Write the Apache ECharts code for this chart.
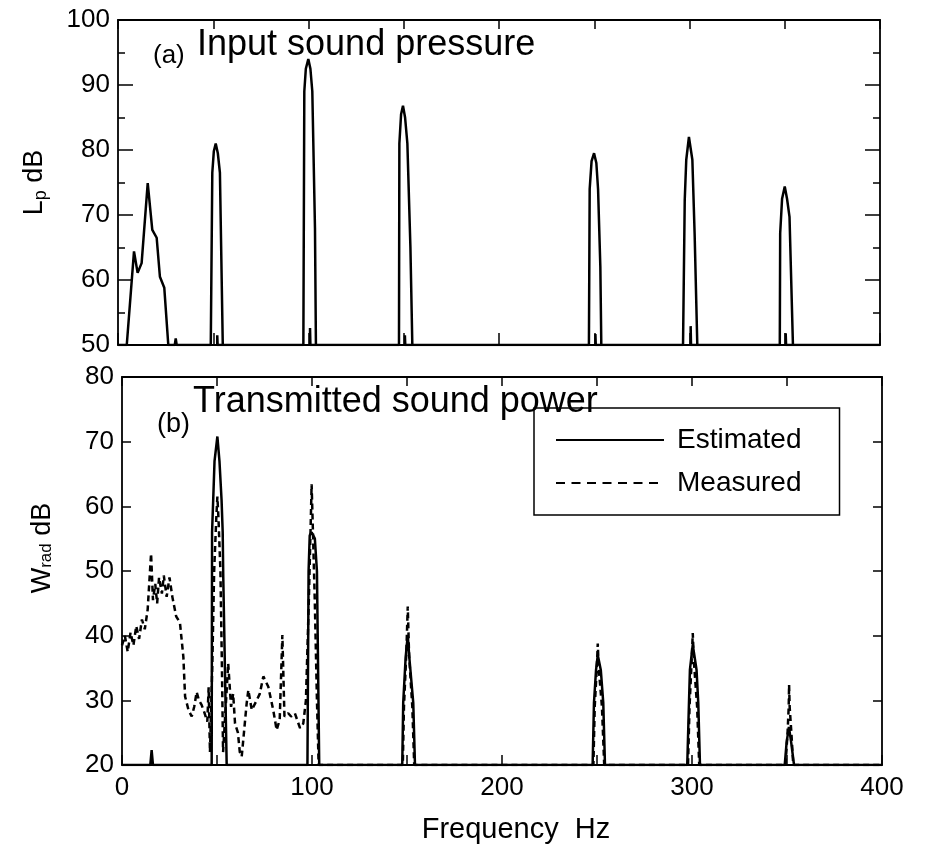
<!DOCTYPE html>
<html>
<head>
<meta charset="utf-8">
<script src="https://cdn.jsdelivr.net/npm/echarts@6/dist/echarts.min.js"></script>
<style>
html,body{margin:0;padding:0;background:#fff;}
#chart{width:926px;height:848px;}
</style>
</head>
<body>
<div id="chart"></div>
<script>
// ---- Data ----
// Panel (a): input sound pressure level Lp (dB) vs frequency (Hz)
const inputPressure = [
  [0,50],[4.6,50],[8.4,64.4],[10.3,61.1],[12.4,62.6],[15.6,74.9],[18.0,67.7],[20.3,66.5],[22.0,60.5],[24.3,58.8],[26.4,50],
  [29.8,50],[30.3,51],[30.8,50],
  [48.7,50],[49.5,76.5],[50.3,79.8],[51.3,81],[52.4,79.5],[53.5,76.5],[55.0,50],[52.1,50],[52.1,51.5],[52.3,50],[55.0,50],
  [97.3,50],[97.8,89],[98.6,92.5],[99.9,94],[101.0,92.5],[102.0,89],[103.4,68],[103.9,50],[100.8,50],[100.8,52.6],[101.0,50],[103.9,50],
  [147.5,50],[147.7,81],[148.6,85.5],[149.6,86.8],[150.7,85],[151.9,81],[153.5,65],[154.5,50],[150.6,50],[150.6,51.5],[150.8,50],[154.5,50],
  [247.2,50],[247.6,74],[248.6,78.3],[249.9,79.5],[251.1,78],[252.0,74],[253.2,62],[253.7,50],[250.6,50],[250.6,51.7],[250.8,50],[253.7,50],
  [296.6,50],[297.5,72.3],[298.3,78.5],[299.7,82],[301.5,78.5],[302.7,67],[304.1,50],[300.6,50],[300.6,52.9],[300.8,50],[304.1,50],
  [347.4,50],[347.6,67.2],[348.6,72.5],[350.0,74.4],[351.2,72.5],[352.5,69.7],[354.3,50],[350.5,50],[350.5,51.8],[350.7,50],[354.3,50],
  [400,50]
];
// Panel (b): transmitted sound power Wrad (dB)
const estimatedPower = [
  [0,20],[14.9,20],[15.6,22.3],[16.3,20],
  [47.2,20],[47.4,56],[48.0,61],[48.7,67],[50.2,70.8],[51.3,67],[52.4,61],[53.0,56],[53.3,49],[55.1,20],
  [97.6,20],[98.2,50],[98.8,55.5],[99.8,56],[101.5,55],[102.6,50],[103.8,20],
  [147.5,20],[148.0,29.6],[149.3,36.7],[150.4,40.1],[151.2,36.7],[153.3,29.6],[154.2,20],
  [247.7,20],[248.4,29.6],[249.5,34.7],[250.4,37],[252.0,34.7],[253.3,29.6],[254.2,20],
  [297.5,20],[298.4,29.6],[298.9,34.7],[300.4,38.6],[302.4,34.7],[303.3,29.6],[304.2,20],
  [348.8,20],[349.8,23.5],[351.0,25.9],[352.2,23.5],[353.7,20],
  [400,20]
];
const measuredPower = [
  [0,38.5],[1.5,40],[3,37.5],[4.5,40.5],[6,38.5],[7.5,41.5],[9,39.5],[10.5,42.5],[12,41],[13.5,44],
  [15.3,52.7],[16.3,45.5],[17.5,48],[18.5,45],[19.5,49],[21,46.5],[22,49.3],[23.5,46],[25,49],[26.5,46],
  [28.5,43],[30.5,42],[32.3,36.7],[33.2,30.6],[35,28.5],[36.7,27.5],[38,29],[39.3,31.3],[40.5,30],[41.9,29.3],
  [43.5,28],[44.9,26.7],[45.6,32],[46.3,22],[47.5,35],[48.5,50],[49.6,58],[50.2,61.5],[50.8,58],[51.8,50],
  [52.6,35],[53.2,22],[55.9,35.7],[57.4,29],[58.5,31],[59.5,26.4],[61,25],[62,22],[63,21.3],[64.5,26],
  [65.6,29.5],[66.5,31.6],[68.3,28.5],[70.9,30],[72.5,31],[74.4,33.7],[77,32.1],[79.6,28.5],[81.4,25.4],[83,27],
  [84.4,40.1],[85.5,27.5],[87.5,28],[89,27.5],[91,28],[93.7,25.7],[95.4,26.4],[96.8,30],[98.3,45],[99.3,57],
  [99.8,63.4],[100.5,56],[101.5,45],[102.6,30],[103.5,20],
  [147.8,20],[148.4,29],[149.6,37],[150.4,44.5],[151.1,37],[152.8,29],[153.8,20],
  [248.1,20],[248.8,29],[249.9,35],[250.4,38.8],[250.9,35],[252.6,29],[253.8,20],
  [297.9,20],[298.7,29],[299.8,36],[300.4,40.4],[301.0,36],[302.7,29],[303.8,20],
  [349.2,20],[350.3,25],[350.9,29],[351.1,32.4],[351.4,29],[352.3,25],[353.3,20],
  [400,20]
];
const xTickLabels = [0, 100, 200, 300, 400];
const seriesNames = ['Estimated', 'Measured'];
const panelTitles = ['(a)', 'Input sound pressure', '(b)', 'Transmitted sound power'];

// ---- Chart ----
const FONT = 'Liberation Sans, Arial, Helvetica, sans-serif';
const chart = echarts.init(document.getElementById('chart'), null, {renderer: 'canvas'});

function xAx(grid, pos, tickLen, showLabels, extra) {
  return Object.assign({
    type: 'value', gridIndex: grid, position: pos, min: 0, max: 400, interval: 50,
    axisLine: {show: true, onZero: false, lineStyle: {color: '#000', width: 1.8}},
    axisTick: {show: true, inside: true, length: tickLen, lineStyle: {color: '#000', width: 1.5}},
    axisLabel: {show: showLabels, color: '#000', fontSize: 26, fontFamily: FONT, margin: 10,
      formatter: v => xTickLabels.indexOf(v) >= 0 ? String(v) : ''},
    splitLine: {show: false}
  }, extra || {});
}
function yAx(grid, pos, min, max, tickLen, minor, showLabels, extra) {
  return Object.assign({
    type: 'value', gridIndex: grid, position: pos, min: min, max: max, interval: 10,
    axisLine: {show: true, onZero: false, lineStyle: {color: '#000', width: 1.8}},
    axisTick: {show: true, inside: true, length: tickLen, lineStyle: {color: '#000', width: 1.5}},
    minorTick: {show: minor, splitNumber: 2, length: 7, lineStyle: {color: '#000', width: 1.5}},
    axisLabel: {show: showLabels, color: '#000', fontSize: 26, fontFamily: FONT, margin: 8},
    splitLine: {show: false}
  }, extra || {});
}

const option = {
  animation: false,
  backgroundColor: '#fff',
  color: ['#000', '#000', '#000'],
  grid: [
    {left: 118, top: 20, width: 762, height: 325, show: false},
    {left: 122, top: 377, width: 760, height: 388, show: false}
  ],
  xAxis: [
    xAx(0, 'bottom', 12, false),
    xAx(0, 'top', 9, false),
    xAx(1, 'bottom', 10, true, {
      name: 'Frequency  Hz', nameLocation: 'middle', nameGap: 50,
      nameTextStyle: {color: '#000', fontSize: 29, fontFamily: FONT, padding: [0, 0, 0, 28]}
    }),
    xAx(1, 'top', 9, false)
  ],
  yAxis: [
    yAx(0, 'left', 50, 100, 15, true, true, {
      name: '{n|L}{s|p}{n| dB}', nameLocation: 'middle', nameGap: 68,
      nameTextStyle: {color: '#000', fontFamily: FONT, rich: {
        n: {fontSize: 27, fontFamily: FONT, color: '#000'},
        s: {fontSize: 18, fontFamily: FONT, color: '#000', padding: [12, 0, 0, 0]}
      }}
    }),
    yAx(0, 'right', 50, 100, 15, true, false),
    yAx(1, 'left', 20, 80, 9, false, true, {
      name: '{n|W}{s|rad}{n| dB}', nameLocation: 'middle', nameGap: 66,
      nameTextStyle: {color: '#000', fontFamily: FONT, padding: [0, 0, 0, 46], rich: {
        n: {fontSize: 27, fontFamily: FONT, color: '#000'},
        s: {fontSize: 17, fontFamily: FONT, color: '#000', padding: [8, 0, 0, 0]}
      }}
    }),
    yAx(1, 'right', 20, 80, 9, false, false)
  ],
  legend: {
    left: 534, top: 408, orient: 'vertical',
    itemWidth: 108, itemHeight: 28, itemGap: 15,
    padding: [18, 38, 18, 21],
    borderColor: '#000', borderWidth: 1.5, backgroundColor: '#fff',
    itemStyle: {opacity: 0},
    textStyle: {color: '#000', fontSize: 28, fontFamily: FONT, padding: [0, 0, 0, 8]},
    data: [
      {name: seriesNames[0]},
      {name: seriesNames[1], lineStyle: {type: [9, 6.5]}}
    ],
    selectedMode: false
  },
  graphic: [
    {type: 'text', left: 153, top: 43, z: 10, style: {text: panelTitles[0], font: '26px ' + FONT, fill: '#000'}},
    {type: 'text', left: 197, top: 27, z: 10, style: {text: panelTitles[1], font: '36px ' + FONT, fill: '#000'}},
    {type: 'text', left: 157, top: 411, z: 10, style: {text: panelTitles[2], font: '27px ' + FONT, fill: '#000'}},
    {type: 'text', left: 193, top: 384, z: 10, style: {text: panelTitles[3], font: '36px ' + FONT, fill: '#000'}}
  ],
  series: [
    {type: 'line', name: 'Lp', xAxisIndex: 0, yAxisIndex: 0, data: inputPressure,
      symbol: 'none', itemStyle: {color: '#000'}, lineStyle: {color: '#000', width: 2.5}, clip: true},
    {type: 'line', name: seriesNames[0], xAxisIndex: 2, yAxisIndex: 2, data: estimatedPower,
      symbol: 'none', itemStyle: {color: '#000'}, lineStyle: {color: '#000', width: 2.5}, clip: true},
    {type: 'line', name: seriesNames[1], xAxisIndex: 2, yAxisIndex: 2, data: measuredPower,
      symbol: 'none', itemStyle: {color: '#000'}, lineStyle: {color: '#000', width: 2.5, type: [6, 4]}, clip: true}
  ]
};
chart.setOption(option);
</script>
</body>
</html>
